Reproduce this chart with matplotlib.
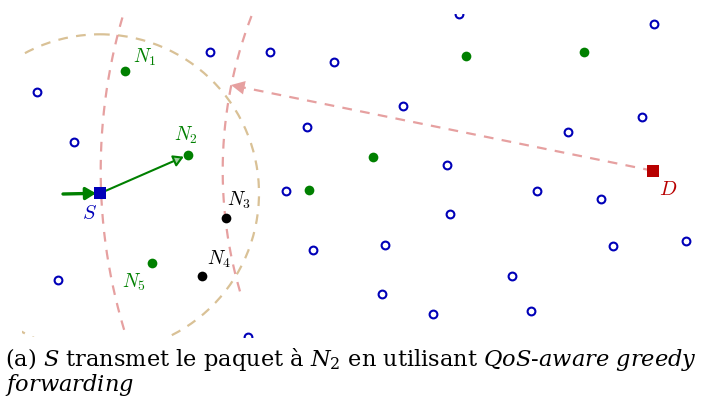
import numpy as np
import matplotlib
matplotlib.use("Agg")
import matplotlib.pyplot as plt
from matplotlib.patches import Rectangle, Circle, FancyArrowPatch

plt.rcParams['lines.scale_dashes'] = False
plt.rcParams['mathtext.fontset'] = 'custom'
plt.rcParams['mathtext.rm'] = 'DejaVu Serif'
plt.rcParams['mathtext.it'] = 'DejaVu Serif:italic'

# ---- data (drawing coordinates, y grows downwards) ----
blue_x = [36.7, 74, 210, 270, 334.3, 306.7, 285.7, 312.7, 58.3, 248, 459.3, 654.3, 402.7,
          641.7, 568, 446.7, 537, 601.3, 450, 384.7, 612.7, 685.7, 511.7, 381.7, 433, 530.7]
blue_y = [93.3, 142.7, 52.7, 52.7, 62.7, 128.3, 192.3, 250.7, 281, 338, 15, 24.7, 106.7,
          118, 132.7, 165.7, 192.3, 200, 215.3, 245.7, 246.7, 242.3, 277, 295, 315.3, 312.3]
green_x = [124.7, 188.3, 152.3, 308.7, 372.7, 466, 584]
green_y = [72, 155.7, 264, 191.3, 158, 57, 52.7]
black_x = [226.3, 202]
black_y = [219.3, 276.7]
source = (100, 194.3)
dest = (652.7, 171.7)
range_radius = 159          # radio range of S
dist_radius_S = 552         # |D - S|
dist_radius_best = 430      # |D - best reachable position|
arrow_tip = (231, 86)
incoming_start = (63, 195)

node_labels = [r'$N_1$', r'$N_2$', r'$N_3$', r'$N_4$', r'$N_5$']
node_label_x = [144.5, 185.5, 239, 219, 134]
node_label_y = [57.5, 135.5, 200.5, 259, 282]
node_label_colors = ['#008000', '#008000', 'black', 'black', '#008000']

caption_line1 = r"(a) $S$ transmet le paquet à $N_2$ en utilisant $QoS$-$aware\ greedy$"
caption_line2 = r"$forwarding$"

BLUE = '#0000b8'
GREEN = '#008000'
DRED = '#b80000'
PINK = '#e6a0a0'
TAN = '#d9c196'

fig = plt.figure(figsize=(7.04, 4.10), dpi=100)
ax = fig.add_axes([0, 0, 1, 1])
ax.set_xlim(0, 704)
ax.set_ylim(410, 0)
ax.axis('off')

clip = Rectangle((22, 15), 704 - 22, 338 - 15, transform=ax.transData, fill=False, visible=False)
ax.add_patch(clip)

# tan range circle
c = Circle(source, range_radius, fill=False, ec=TAN, lw=1.6, ls=(0, (7, 6)), zorder=1)
ax.add_patch(c)
c.set_clip_path(clip)

# pink arcs centred at D
t1 = np.radians(np.linspace(150, 215, 400))
l1, = ax.plot(dest[0] + dist_radius_S * np.cos(t1), dest[1] + dist_radius_S * np.sin(t1),
              color=PINK, lw=1.6, ls=(3, (7, 6)), zorder=1)
l1.set_clip_path(clip)
t2 = np.radians(np.linspace(163.7, 205, 300))
l2, = ax.plot(dest[0] + dist_radius_best * np.cos(t2), dest[1] + dist_radius_best * np.sin(t2),
              color=PINK, lw=1.6, ls=(0, (7, 6)), zorder=1)
l2.set_clip_path(clip)

# dashed arrow D -> projected position
vx, vy = arrow_tip[0] - dest[0], arrow_tip[1] - dest[1]
L = np.hypot(vx, vy)
ux, uy = vx / L, vy / L
ax.plot([dest[0], arrow_tip[0] - ux * 8], [dest[1], arrow_tip[1] - uy * 8],
        color=PINK, lw=1.6, ls=(0, (7, 6)), zorder=1)
ax.add_patch(FancyArrowPatch((arrow_tip[0] - ux * 14, arrow_tip[1] - uy * 14), arrow_tip,
                             arrowstyle='-|>,head_length=0.7,head_width=0.35',
                             mutation_scale=14, color=PINK, lw=0, zorder=2,
                             shrinkA=0, shrinkB=0))

# green arrows
ax.add_patch(FancyArrowPatch(incoming_start, (source[0] - 4, source[1]),
                             arrowstyle='-|>,head_length=0.5,head_width=0.3',
                             mutation_scale=12, color=GREEN, lw=2.4, zorder=3,
                             shrinkA=0, shrinkB=0))
ax.add_patch(FancyArrowPatch(source, (green_x[1] - 4.5, green_y[1] + 2),
                             arrowstyle='-|>,head_length=0.6,head_width=0.35',
                             mutation_scale=10, ec=GREEN, fc='#9fd09f', lw=1.5, zorder=3,
                             shrinkA=0, shrinkB=0))

# nodes
lb, = ax.plot(blue_x, blue_y, 'o', ms=5.6, mfc='white', mec=BLUE, mew=1.5, zorder=4)
lb.set_clip_path(clip)
ax.plot(green_x, green_y, 'o', ms=7, color=GREEN, mew=0, zorder=4)
ax.plot(black_x, black_y, 'o', ms=7, color='black', mew=0, zorder=4)
ax.plot([source[0]], [source[1]], 's', ms=9, color=BLUE, mew=0, zorder=5)
ax.plot([dest[0]], [dest[1]], 's', ms=9, color=DRED, mew=0, zorder=5)

for s, x, y, col in zip(node_labels, node_label_x, node_label_y, node_label_colors):
    ax.text(x, y, s, color=col, fontsize=14, ha='center', va='center', math_fontfamily='cm')
ax.text(89.5, 214, r'$S$', color=BLUE, fontsize=14.5, ha='center', va='center', math_fontfamily='cm')
ax.text(668, 189.5, r'$D$', color=DRED, fontsize=14.5, ha='center', va='center', math_fontfamily='cm')

# caption
ax.text(5, 366, caption_line1, fontsize=16.2, family='DejaVu Serif', ha='left',
        va='baseline', math_fontfamily='custom')
ax.text(5, 391, caption_line2, fontsize=16.2, family='DejaVu Serif', ha='left',
        va='baseline', math_fontfamily='custom')

fig.savefig('out.png', dpi=100)
